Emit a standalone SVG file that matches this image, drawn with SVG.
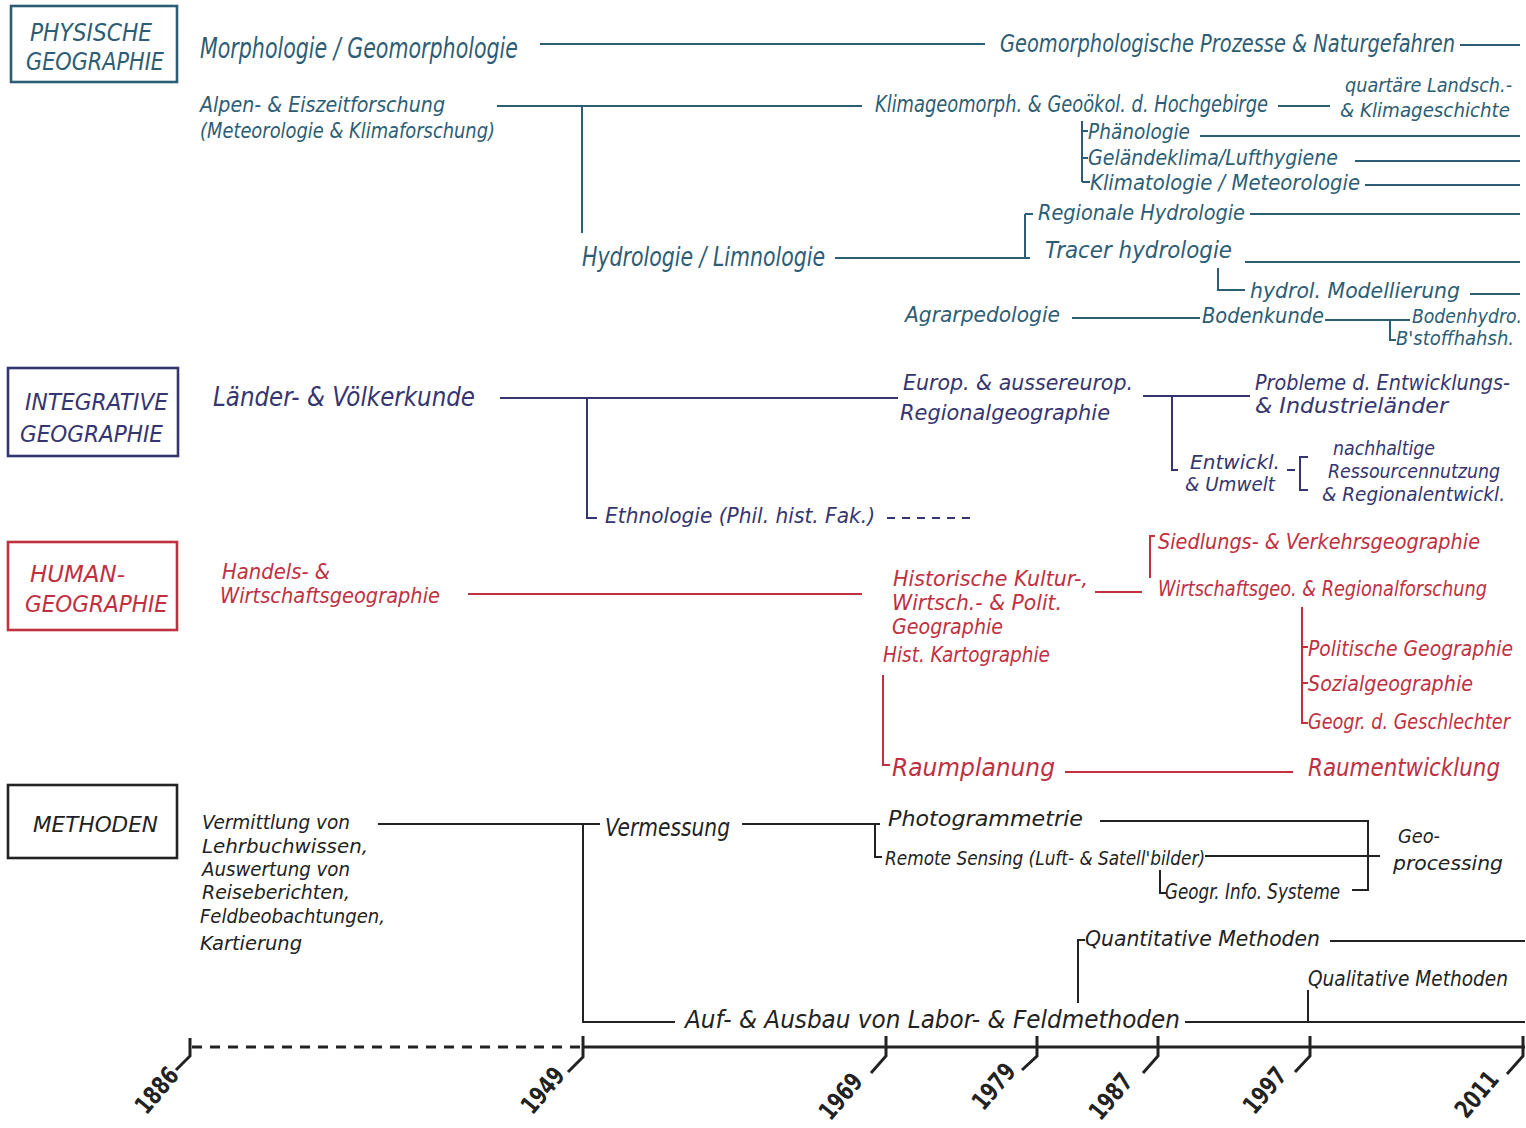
<svg xmlns="http://www.w3.org/2000/svg" width="1526" height="1128" viewBox="0 0 1526 1128">
<style>
text{font-family:"DejaVu Sans Condensed","DejaVu Sans",sans-serif;font-style:italic}
.p{fill:#2c5d74}.i{fill:#35356f}.h{fill:#c0303f}.m{fill:#222}
.bp,.lp{stroke:#2c5d74;fill:none}.bi,.li{stroke:#35356f;fill:none}.bh,.lh{stroke:#c0303f;fill:none}.bm,.lm{stroke:#222;fill:none}
.bp,.bi,.bh,.bm{stroke-width:2.6}
.lp,.li,.lh,.lm{stroke-width:2}
.tl{stroke:#222;stroke-width:3;fill:none}
.yr{font-size:25px;font-weight:bold;fill:#222;font-style:normal}
</style>
<rect width="1526" height="1128" fill="#fff"/>

<g id="connectors">
<path class="lp" d="M540 44H985M1460 45H1520M497 106H862M582 106V233M1278 106H1330M1082 121V182M1082 131H1088M1082 158H1088M1082 182H1090M1200 136H1520M1355 161H1520M1365 185H1520M835 258H1030M1025 214V258M1025 214H1033M1250 214H1520M1245 262H1520M1218 268V290H1245M1470 294H1520M1072 318H1200M1325 320H1410M1390 320V340H1396"/>
<path class="li" d="M500 398H898M587 398V518H597M1143 396H1250M1172 396V470H1178M1287 470H1295M1308 457H1300V490H1308"/>
<path class="li" d="M887 518H975" stroke-dasharray="8 7"/>
<path class="lh" d="M468 594H862M1095 592H1142M1155 536H1150V578M1302 607V723H1308M1302 647H1308M1302 683H1308M883 675V765H890M1065 772H1293"/>
<path class="lm" d="M378 824H600M583 824V1022H675M742 824H880M875 824V857H882M1100 821H1368V890H1352M1205 856H1368M1368 856H1380M1160 870V893H1166M1078 1003V940H1085M1330 941H1525M1185 1022H1525M1308 990V1022"/>
</g>

<g id="timeline">
<path class="tl" d="M192 1047H580" stroke-dasharray="10 8"/>
<path class="tl" d="M583 1047H1525"/>
<path class="tl" stroke-width="2.5" d="M190 1038V1056L176 1070M583 1036V1057L568 1072M886 1036V1056L871 1073M1037 1036V1056L1022 1070M1158 1036V1056L1143 1073M1310 1036V1056L1295 1072M1523 1036V1056L1507 1074"/>
<text class="yr" transform="translate(180 1076) rotate(-50)" text-anchor="end" textLength="52" lengthAdjust="spacingAndGlyphs">1886</text>
<text class="yr" transform="translate(566 1076) rotate(-50)" text-anchor="end" textLength="52" lengthAdjust="spacingAndGlyphs">1949</text>
<text class="yr" transform="translate(864 1082) rotate(-50)" text-anchor="end" textLength="52" lengthAdjust="spacingAndGlyphs">1969</text>
<text class="yr" transform="translate(1017 1072) rotate(-50)" text-anchor="end" textLength="52" lengthAdjust="spacingAndGlyphs">1979</text>
<text class="yr" transform="translate(1134 1082) rotate(-50)" text-anchor="end" textLength="52" lengthAdjust="spacingAndGlyphs">1987</text>
<text class="yr" transform="translate(1288 1076) rotate(-50)" text-anchor="end" textLength="52" lengthAdjust="spacingAndGlyphs">1997</text>
<text class="yr" transform="translate(1500 1080) rotate(-50)" text-anchor="end" textLength="52" lengthAdjust="spacingAndGlyphs">2011</text>
</g>

<!-- PHYSISCHE -->
<g id="box-physische"><rect class="bp" x="11" y="6" width="166" height="76"/>
<text class="p" font-size="24" x="30" y="41" textLength="122" lengthAdjust="spacingAndGlyphs">PHYSISCHE</text>
<text class="p" font-size="24" x="26" y="70" textLength="138" lengthAdjust="spacingAndGlyphs">GEOGRAPHIE</text></g>
<g id="n-morph"><text class="p" font-size="28" x="200" y="58" textLength="318" lengthAdjust="spacingAndGlyphs">Morphologie / Geomorphologie</text></g>
<g id="n-geoproz"><text class="p" font-size="25" x="1000" y="52" textLength="455" lengthAdjust="spacingAndGlyphs">Geomorphologische Prozesse &amp; Naturgefahren</text></g>
<g id="n-alpen"><text class="p" font-size="21" x="200" y="112" textLength="245" lengthAdjust="spacingAndGlyphs">Alpen- &amp; Eiszeitforschung</text>
<text class="p" font-size="21" x="200" y="138" textLength="295" lengthAdjust="spacingAndGlyphs">(Meteorologie &amp; Klimaforschung)</text></g>
<g id="n-klimageo"><text class="p" font-size="23" x="875" y="112" textLength="393" lengthAdjust="spacingAndGlyphs">Klimageomorph. &amp; Geoökol. d. Hochgebirge</text></g>
<g id="n-quartaer"><text class="p" font-size="20" x="1345" y="92" textLength="167" lengthAdjust="spacingAndGlyphs">quartäre Landsch.-</text>
<text class="p" font-size="20" x="1340" y="117" textLength="170" lengthAdjust="spacingAndGlyphs">&amp; Klimageschichte</text></g>
<g id="n-phaen"><text class="p" font-size="21" x="1088" y="139" textLength="102" lengthAdjust="spacingAndGlyphs">Phänologie</text></g>
<g id="n-gelaende"><text class="p" font-size="21" x="1088" y="165" textLength="250" lengthAdjust="spacingAndGlyphs">Geländeklima/Lufthygiene</text></g>
<g id="n-klimatol"><text class="p" font-size="21" x="1090" y="190" textLength="270" lengthAdjust="spacingAndGlyphs">Klimatologie / Meteorologie</text></g>
<g id="n-hydro"><text class="p" font-size="26" x="582" y="266" textLength="243" lengthAdjust="spacingAndGlyphs">Hydrologie / Limnologie</text></g>
<g id="n-reghydro"><text class="p" font-size="22" x="1038" y="220" textLength="207" lengthAdjust="spacingAndGlyphs">Regionale Hydrologie</text></g>
<g id="n-tracer"><text class="p" font-size="23" x="1045" y="258" textLength="187" lengthAdjust="spacingAndGlyphs">Tracer hydrologie</text></g>
<g id="n-modell"><text class="p" font-size="21" x="1250" y="298" textLength="210" lengthAdjust="spacingAndGlyphs">hydrol. Modellierung</text></g>
<g id="n-agrar"><text class="p" font-size="22" x="905" y="322" textLength="155" lengthAdjust="spacingAndGlyphs">Agrarpedologie</text></g>
<g id="n-boden"><text class="p" font-size="21" x="1202" y="323" textLength="122" lengthAdjust="spacingAndGlyphs">Bodenkunde</text></g>
<g id="n-bodenhydro"><text class="p" font-size="19" x="1412" y="323" textLength="110" lengthAdjust="spacingAndGlyphs">Bodenhydro.</text></g>
<g id="n-bstoff"><text class="p" font-size="19" x="1396" y="345" textLength="118" lengthAdjust="spacingAndGlyphs">B'stoffhahsh.</text></g>

<!-- INTEGRATIVE -->
<g id="box-integrative"><rect class="bi" x="8" y="368" width="170" height="88"/>
<text class="i" font-size="23" x="25" y="410" textLength="143" lengthAdjust="spacingAndGlyphs">INTEGRATIVE</text>
<text class="i" font-size="23" x="20" y="442" textLength="143" lengthAdjust="spacingAndGlyphs">GEOGRAPHIE</text></g>
<g id="n-laender"><text class="i" font-size="26" x="213" y="406" textLength="262" lengthAdjust="spacingAndGlyphs">Länder- &amp; Völkerkunde</text></g>
<g id="n-ethno"><text class="i" font-size="22" x="605" y="523" textLength="270" lengthAdjust="spacingAndGlyphs">Ethnologie (Phil. hist. Fak.)</text></g>
<g id="n-europ"><text class="i" font-size="22" x="903" y="390" textLength="230" lengthAdjust="spacingAndGlyphs">Europ. &amp; aussereurop.</text>
<text class="i" font-size="22" x="900" y="420" textLength="210" lengthAdjust="spacingAndGlyphs">Regionalgeographie</text></g>
<g id="n-probleme"><text class="i" font-size="22" x="1255" y="390" textLength="255" lengthAdjust="spacingAndGlyphs">Probleme d. Entwicklungs-</text>
<text class="i" font-size="22" x="1255" y="413" textLength="193" lengthAdjust="spacingAndGlyphs">&amp; Industrieländer</text></g>
<g id="n-entw"><text class="i" font-size="20" x="1190" y="469" textLength="90" lengthAdjust="spacingAndGlyphs">Entwickl.</text>
<text class="i" font-size="20" x="1185" y="491" textLength="90" lengthAdjust="spacingAndGlyphs">&amp; Umwelt</text></g>
<g id="n-nachh"><text class="i" font-size="20" x="1333" y="455" textLength="102" lengthAdjust="spacingAndGlyphs">nachhaltige</text>
<text class="i" font-size="20" x="1328" y="478" textLength="172" lengthAdjust="spacingAndGlyphs">Ressourcennutzung</text>
<text class="i" font-size="20" x="1322" y="501" textLength="183" lengthAdjust="spacingAndGlyphs">&amp; Regionalentwickl.</text></g>

<!-- HUMAN -->
<g id="box-human"><rect class="bh" x="8" y="542" width="169" height="88"/>
<text class="h" font-size="23" x="30" y="582" textLength="95" lengthAdjust="spacingAndGlyphs">HUMAN-</text>
<text class="h" font-size="23" x="25" y="612" textLength="143" lengthAdjust="spacingAndGlyphs">GEOGRAPHIE</text></g>
<g id="n-handels"><text class="h" font-size="21" x="222" y="579" textLength="108" lengthAdjust="spacingAndGlyphs">Handels- &amp;</text>
<text class="h" font-size="21" x="220" y="603" textLength="220" lengthAdjust="spacingAndGlyphs">Wirtschaftsgeographie</text></g>
<g id="n-hist"><text class="h" font-size="21" x="893" y="586" textLength="195" lengthAdjust="spacingAndGlyphs">Historische Kultur-,</text>
<text class="h" font-size="21" x="892" y="610" textLength="170" lengthAdjust="spacingAndGlyphs">Wirtsch.- &amp; Polit.</text>
<text class="h" font-size="21" x="892" y="634" textLength="111" lengthAdjust="spacingAndGlyphs">Geographie</text>
<text class="h" font-size="21" x="883" y="662" textLength="167" lengthAdjust="spacingAndGlyphs">Hist. Kartographie</text></g>
<g id="n-siedl"><text class="h" font-size="22" x="1158" y="549" textLength="322" lengthAdjust="spacingAndGlyphs">Siedlungs- &amp; Verkehrsgeographie</text></g>
<g id="n-wirtsch"><text class="h" font-size="22" x="1158" y="596" textLength="329" lengthAdjust="spacingAndGlyphs">Wirtschaftsgeo. &amp; Regionalforschung</text></g>
<g id="n-polit"><text class="h" font-size="21" x="1308" y="656" textLength="205" lengthAdjust="spacingAndGlyphs">Politische Geographie</text></g>
<g id="n-sozial"><text class="h" font-size="21" x="1308" y="691" textLength="165" lengthAdjust="spacingAndGlyphs">Sozialgeographie</text></g>
<g id="n-gender"><text class="h" font-size="21" x="1308" y="729" textLength="202" lengthAdjust="spacingAndGlyphs">Geogr. d. Geschlechter</text></g>
<g id="n-raumpl"><text class="h" font-size="24" x="892" y="776" textLength="163" lengthAdjust="spacingAndGlyphs">Raumplanung</text></g>
<g id="n-raument"><text class="h" font-size="24" x="1308" y="776" textLength="192" lengthAdjust="spacingAndGlyphs">Raumentwicklung</text></g>

<!-- METHODEN -->
<g id="box-methoden"><rect class="bm" x="8" y="785" width="169" height="73"/>
<text class="m" font-size="22" x="33" y="832" textLength="125" lengthAdjust="spacingAndGlyphs">METHODEN</text></g>
<g id="n-vermittlung">
<text class="m" font-size="20" x="202" y="829" textLength="148" lengthAdjust="spacingAndGlyphs">Vermittlung von</text>
<text class="m" font-size="20" x="202" y="853" textLength="166" lengthAdjust="spacingAndGlyphs">Lehrbuchwissen,</text>
<text class="m" font-size="20" x="202" y="876" textLength="148" lengthAdjust="spacingAndGlyphs">Auswertung von</text>
<text class="m" font-size="20" x="202" y="899" textLength="148" lengthAdjust="spacingAndGlyphs">Reiseberichten,</text>
<text class="m" font-size="20" x="200" y="923" textLength="185" lengthAdjust="spacingAndGlyphs">Feldbeobachtungen,</text>
<text class="m" font-size="20" x="200" y="950" textLength="102" lengthAdjust="spacingAndGlyphs">Kartierung</text></g>
<g id="n-vermessung"><text class="m" font-size="24" x="605" y="836" textLength="125" lengthAdjust="spacingAndGlyphs">Vermessung</text></g>
<g id="n-photo"><text class="m" font-size="22" x="888" y="826" textLength="195" lengthAdjust="spacingAndGlyphs">Photogrammetrie</text></g>
<g id="n-remote"><text class="m" font-size="20" x="885" y="865" textLength="320" lengthAdjust="spacingAndGlyphs">Remote Sensing (Luft- &amp; Satell'bilder)</text></g>
<g id="n-gis"><text class="m" font-size="21" x="1165" y="899" textLength="175" lengthAdjust="spacingAndGlyphs">Geogr. Info. Systeme</text></g>
<g id="n-geoproc"><text class="m" font-size="20" x="1398" y="843" textLength="42" lengthAdjust="spacingAndGlyphs">Geo-</text>
<text class="m" font-size="20" x="1393" y="870" textLength="110" lengthAdjust="spacingAndGlyphs">processing</text></g>
<g id="n-quant"><text class="m" font-size="22" x="1085" y="946" textLength="235" lengthAdjust="spacingAndGlyphs">Quantitative Methoden</text></g>
<g id="n-qual"><text class="m" font-size="21" x="1308" y="986" textLength="200" lengthAdjust="spacingAndGlyphs">Qualitative Methoden</text></g>
<g id="n-aufbau"><text class="m" font-size="24" x="685" y="1028" textLength="495" lengthAdjust="spacingAndGlyphs">Auf- &amp; Ausbau von Labor- &amp; Feldmethoden</text></g>
</svg>
